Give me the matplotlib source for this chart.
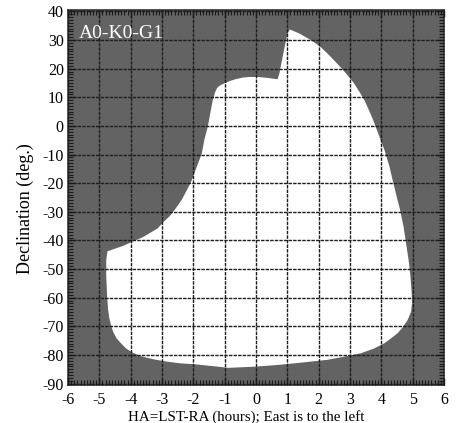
import matplotlib
matplotlib.use("Agg")
import matplotlib.pyplot as plt
from matplotlib.ticker import MultipleLocator

# Visible region boundary (hour angle in hours, declination in degrees)
ha_boundary = [1.08, 1.38, 1.75, 2.05, 2.28, 2.58, 2.82, 3.01, 3.14, 3.33, 3.46,
               3.65, 3.78, 3.94, 4.10, 4.26, 4.36, 4.49, 4.60, 4.71, 4.79, 4.87,
               4.93, 4.97, 4.98, 4.95, 4.84, 4.70, 4.52, 4.31, 4.10, 3.78, 3.35,
               2.82, 2.28, 1.43, 0.69, -0.06, -0.88, -1.38, -1.91, -2.44, -2.87,
               -3.28, -3.62, -3.94, -4.15, -4.31, -4.45, -4.56, -4.63, -4.68,
               -4.72, -4.75, -4.78, -4.78, -4.74, -4.56, -4.24, -3.94, -3.62,
               -3.40, -3.14, -2.92, -2.75, -2.60, -2.37, -2.21, -2.05, -1.89,
               -1.73, -1.65, -1.54, -1.46, -1.38, -1.30, -1.24, -1.14, -0.94,
               -0.78, -0.62, -0.42, -0.21, 0.06, 0.34, 0.55, 0.69, 0.75, 0.85,
               0.94, 1.01]
dec_boundary = [33.7, 32.3, 30.0, 27.7, 25.3, 21.9, 19.0, 16.6, 14.7, 11.4, 9.0,
                4.4, 0.9, -3.8, -8.4, -14.2, -18.9, -24.7, -29.4, -35.2, -41.0, -46.8,
                -52.7, -58.4, -61.9, -64.9, -67.8, -70.1, -72.4, -74.2, -75.9, -77.7, -79.4,
                -80.6, -81.7, -82.7, -83.5, -84.1, -84.5, -83.9, -83.3, -82.9, -82.3,
                -81.5, -80.6, -79.2, -77.7, -75.9, -74.2, -71.9, -69.5, -67.2,
                -64.3, -59.6, -52.7, -46.8, -43.8, -43.1, -41.9, -40.4, -38.9,
                -37.5, -35.8, -33.2, -31.5, -29.4, -25.8, -22.5, -19.0, -14.3,
                -9.6, -4.9, -0.3, 4.4, 9.0, 11.9, 13.3, 14.2, 15.2,
                15.9, 16.4, 16.9, 17.1, 17.1, 16.8, 16.5, 16.3, 18.5, 24.1,
                29.0, 32.4]

x_ticks = [-6, -5, -4, -3, -2, -1, 0, 1, 2, 3, 4, 5, 6]
y_ticks = [40, 30, 20, 10, 0, -10, -20, -30, -40, -50, -60, -70, -80, -90]
title_text = "A0-K0-G1"

plt.rcParams['font.family'] = ['Liberation Serif', 'DejaVu Serif']
plt.rcParams['axes.unicode_minus'] = False

fig = plt.figure(figsize=(4.58, 4.23), dpi=100)
ax = fig.add_axes([0.1485, 0.0898, 0.9694 - 0.1485, 0.9764 - 0.0898])
ax.set_facecolor('#636363')
ax.fill(ha_boundary, dec_boundary, color='white', zorder=1, lw=0)

ax.set_xlim(-6, 6)
ax.set_ylim(-90.5, 40.5)
ax.set_xticks(x_ticks)
ax.set_yticks(y_ticks)
ax.xaxis.set_minor_locator(MultipleLocator(0.1))
ax.yaxis.set_minor_locator(MultipleLocator(1))
ax.tick_params(which='both', direction='in', top=True, right=True,
               color='#1a1a1a', labelsize=11.5)
ax.tick_params(axis='x', which='major', pad=5)
ax.tick_params(axis='y', which='major', pad=3)
ax.tick_params(which='major', length=5, width=1)
ax.tick_params(which='minor', length=3.5, width=0.8)
ax.grid(True, which='major', color='#1e1e1e', linestyle=(0, (2.5, 0.8)),
        linewidth=1.0, zorder=2)
ax.set_axisbelow(False)
for s in ax.spines.values():
    s.set_color('#333333')
    s.set_linewidth(1.2)

ax.set_xlabel("HA=LST-RA (hours); East is to the left", fontsize=10.8)
ax.set_ylabel("Declination (deg.)", fontsize=13)
ax.xaxis.set_label_coords(0.473, -0.066)
ax.yaxis.set_label_coords(-0.09, 0.47)
ax.text(0.03, 0.96, title_text, transform=ax.transAxes, color='white',
        fontsize=14, va='top', ha='left', zorder=5)

fig.savefig("out.png", dpi=100)
